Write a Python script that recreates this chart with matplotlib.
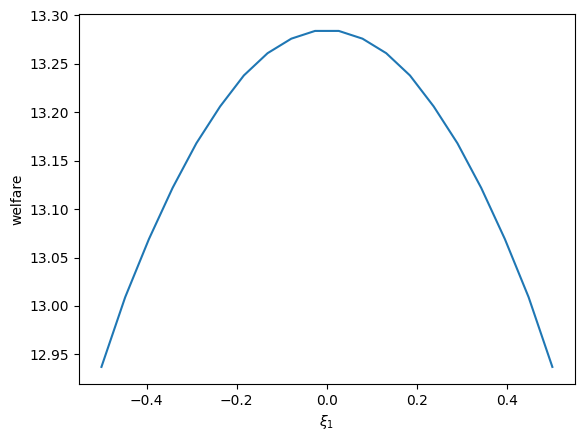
import numpy as np
import matplotlib
matplotlib.use("Agg")
import matplotlib.pyplot as plt

# xi_1 grid and welfare values
xi1 = np.linspace(-0.5, 0.5, 20)
welfare = [12.937, 13.009, 13.069, 13.122, 13.168, 13.206, 13.238, 13.261, 13.276, 13.284,
           13.284, 13.276, 13.261, 13.238, 13.206, 13.168, 13.122, 13.069, 13.009, 12.937]

fig, ax = plt.subplots(figsize=(6.4, 4.8), dpi=100)
ax.plot(xi1, welfare)
ax.set_xlabel(r"$\xi_1$")
ax.set_ylabel("welfare")

plt.savefig("out.png", dpi=100, bbox_inches="tight")
plt.close()
